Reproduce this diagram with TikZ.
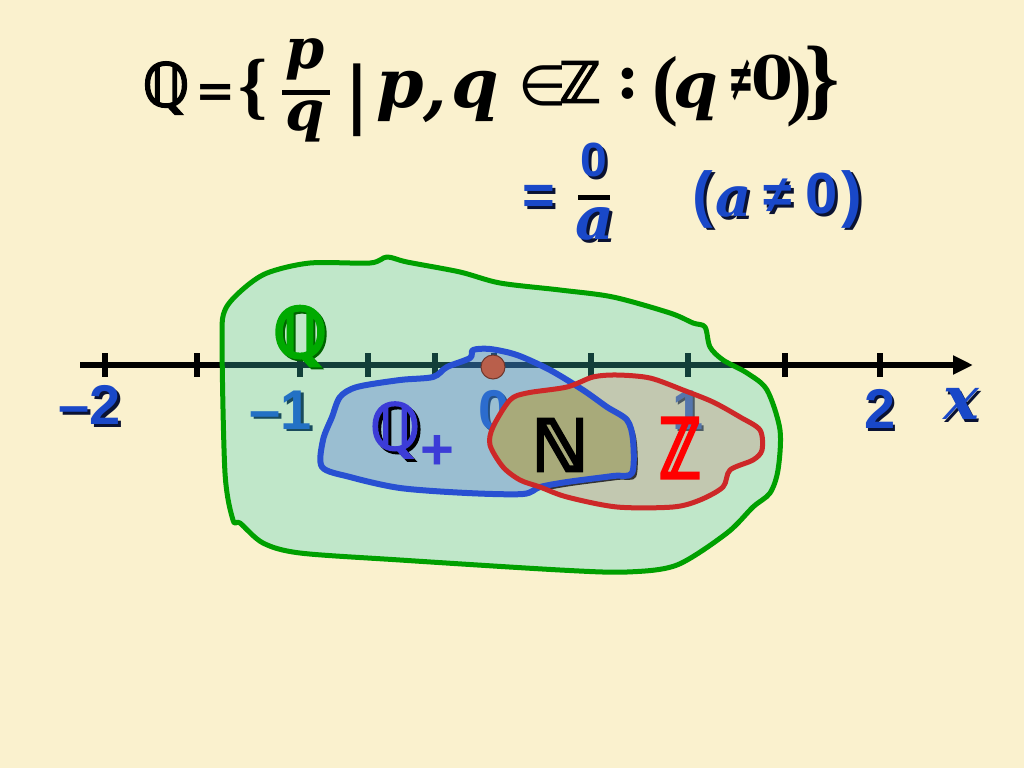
\documentclass[tikz,border=0pt]{standalone}
\usepackage{fontspec}
\usetikzlibrary{arrows.meta}
\setmainfont{DejaVu Serif}
\newfontfamily\dsans{DejaVu Sans}
\newfontfamily\dsfb{DejaVu Sans}[FakeBold=3]
\newfontfamily\dsfbb{DejaVu Sans}[FakeBold=5]
\newfontfamily\dserif{DejaVu Serif}
\newfontfamily\lsans{Liberation Sans}
\newfontfamily\lserif{Liberation Serif}
\newcommand\fsz[1]{\fontsize{#1}{#1}\selectfont}
\definecolor{bgc}{RGB}{250,241,206}
\definecolor{ublue}{RGB}{25,72,200}
\definecolor{ushade}{RGB}{10,18,50}
\definecolor{gline}{RGB}{0,160,0}
\definecolor{gfillc}{RGB}{60,210,190}
\definecolor{bline}{RGB}{40,80,210}
\definecolor{bfillc}{RGB}{67,97,230}
\definecolor{rline}{RGB}{205,40,40}
\definecolor{rfillc}{RGB}{200,130,120}
\definecolor{olivec}{RGB}{168,170,122}
\definecolor{dotc}{RGB}{185,95,75}
\definecolor{dotl}{RGB}{110,55,45}
\definecolor{qgreen}{RGB}{0,170,0}
\definecolor{qgreens}{RGB}{0,100,0}
\definecolor{qblue}{RGB}{60,60,215}
\tikzset{
  ttl/.style={inner sep=0pt, outer sep=0pt, anchor=center},
  tickmark/.style={line width=6pt, black},
  blob/.style={line width=5pt, line join=round},
}
\newcommand\btxt[4]{%
  \node[ttl, font=#3, text=ushade, xshift=2.5pt, yshift=-2.5pt] (#1s) at (#2) {#4};
  \node[ttl, font=#3, text=ublue] (#1) at (#2) {#4};}
\def\greenpath{plot[smooth cycle, tension=0.5] coordinates {(242,290) (267,273) (310,263) (370,263) (387,257) (407,262) (460,272) (500,283) (560,290) (613,297) (670,313) (693,323) (705,327) (710,347) (723,360) (747,373) (767,390) (780,430) (778,470) (770,493) (753,507) (727,533) (677,565) (627,572) (560,570) (400,560) (300,553) (263,543) (240,523) (233,520) (225,473) (222,340) (225,310)}}
\def\bluepath{plot[smooth cycle, tension=0.5] coordinates {(322,467) (323,440) (332,417) (340,397) (357,387) (400,380) (433,377) (447,367) (470,358) (473,350) (490,349) (517,355) (550,370) (583,390) (607,407) (627,420) (633,440) (632,473) (613,476) (567,482) (540,487) (523,494) (467,493) (400,488) (350,477)}}
\def\redpath{plot[smooth cycle, tension=0.5] coordinates {(490,445) (493,427) (510,400) (527,393) (567,387) (593,377) (617,375) (650,378) (683,390) (713,402) (740,417) (760,430) (762,450) (753,460) (730,470) (723,487) (700,500) (673,507) (617,507) (567,497) (540,487) (520,480) (503,467)}}
\begin{document}
\begin{tikzpicture}[x=1pt, y=-1pt]
\useasboundingbox (0,0) rectangle (1024,768);
\fill[bgc] (0,0) rectangle (1024,768);
% axis
\coordinate (axL) at (80,365);
\coordinate (axR) at (973,365);
\draw[line width=6pt, -{Triangle[length=20pt,width=18pt]}] (axL) -- (axR);
\foreach \t in {105,197,300,368,435,494,591,688,785,880}
  \draw[tickmark] (\t,353) -- (\t,377);
% axis labels
\btxt{lm2}{90,405}{\lsans\bfseries\fsz{56}}{–2}
\btxt{lm1}{281,410}{\lsans\bfseries\fsz{56}}{–1}
\btxt{lz}{494,410}{\lsans\bfseries\fsz{56}}{0}
\btxt{lo}{688,410}{\lsans\bfseries\fsz{56}}{1}
\btxt{lt}{880,409}{\lsans\bfseries\fsz{56}}{2}
\btxt{lx}{961,404}{\dserif\bfseries\itshape\fsz{60}}{x}
% blobs fills
\fill[gfillc, fill opacity=0.3] \greenpath;
\fill[bfillc, fill opacity=0.3] \bluepath;
\fill[rfillc, fill opacity=0.3] \redpath;
\begin{scope}
  \clip \redpath;
  \fill[black!80, shift={(4,4)}] \bluepath;
  \fill[olivec] \bluepath;
\end{scope}
% blob outlines
\draw[blob, gline] \greenpath;
\draw[blob, bline, line width=6pt] \bluepath;
\draw[blob, rline] \redpath;
% zero dot
\draw[dotl, fill=dotc, line width=1pt] (493,367) circle (12);
% set labels
\node[ttl, font=\dsfbb\fsz{68}, text=qgreens, xshift=2pt, yshift=-2pt] (Qgs) at (300,336) {ℚ};
\node[ttl, font=\dsfbb\fsz{68}, text=qgreen] (Qg) at (300,336) {ℚ};
\node[ttl, font=\dsfb\fsz{64}, text=black, xshift=3pt, yshift=-3pt] (Qps) at (395,430) {ℚ};
\node[ttl, font=\dsfb\fsz{64}, text=qblue] (Qp) at (395,430) {ℚ};
\node[ttl, font=\lsans\bfseries\fsz{58}, text=qblue] (Qplus) at (437,452) {+};
\node[ttl, font=\dsfbb\fsz{70}, text=black] (Nn) at (560,445) {ℕ};
\node[ttl, font=\dsfbb\fsz{56}, text=red] (Zz) at (680,448) {\scalebox{1}[1.45]{ℤ}};
% title
\node[ttl, font=\dsfb\fsz{60}] (tQ) at (166,88) {ℚ};
\node[ttl, font=\dserif\bfseries\fsz{48}] (tEq) at (216,96) {=};
\node[ttl, font=\lserif\bfseries\fsz{74}] (tLb) at (253,90) {\{};
\node[ttl, font=\dserif\bfseries\itshape\fsz{56}] (tP1) at (305,59) {p};
\fill (282,90) rectangle (330,95);
\node[ttl, font=\dserif\bfseries\itshape\fsz{56}] (tQ1) at (305,121) {q};
\node[ttl, font=\dsans\bfseries\fsz{56}] (tBar) at (357,100) {\scalebox{1.15}[1.3]{|}};
\node[ttl, font=\dserif\bfseries\itshape\fsz{68}] (tP2) at (400,96) {p};
\node[ttl, font=\dserif\bfseries\itshape\fsz{68}] (tCm) at (435,112) {,};
\node[ttl, font=\dserif\bfseries\itshape\fsz{68}] (tQ2) at (475,96) {q};
\node[ttl, font=\dsans\fsz{56}] (tIn) at (543,86) {∈};
\node[ttl, font=\dsfb\fsz{56}] (tZ) at (580,82) {ℤ};
\node[ttl, font=\dserif\bfseries\fsz{62}] (tCo) at (628,84) {:};
\node[ttl, font=\lserif\bfseries\fsz{78}] (tLp) at (665,92) {(};
\node[ttl, font=\dserif\bfseries\itshape\fsz{64}] (tQ3) at (696,97) {q};
\node[ttl, font=\dsans\bfseries\fsz{56}] (tNe) at (741,80) {\scalebox{0.55}[1.15]{≠}};
\node[ttl, font=\dserif\bfseries\fsz{60}] (tZero) at (772,78) {0};
\node[ttl, font=\lserif\bfseries\fsz{78}] (tRp) at (799,92) {)};
\node[ttl, font=\lserif\bfseries\fsz{90}] (tRb) at (822,83) {\}};
% second line
\btxt{sEq}{539,200}{\lsans\bfseries\fsz{56}}{=}
\btxt{sZ}{594,160}{\lsans\bfseries\fsz{48}}{0}
\fill (578,195) rectangle (610,200);
\btxt{sA}{595,224}{\dserif\bfseries\itshape\fsz{60}}{a}
\btxt{sLp}{703,199}{\lsans\bfseries\fsz{62}}{(}
\btxt{sA2}{734,202}{\dserif\bfseries\itshape\fsz{56}}{a}
\btxt{sNe}{778,196}{\lsans\bfseries\fsz{52}}{≠}
\btxt{sZ2}{822,194}{\lsans\bfseries\fsz{58}}{0}
\btxt{sRp}{852,199}{\lsans\bfseries\fsz{62}}{)}
\end{tikzpicture}
\end{document}
